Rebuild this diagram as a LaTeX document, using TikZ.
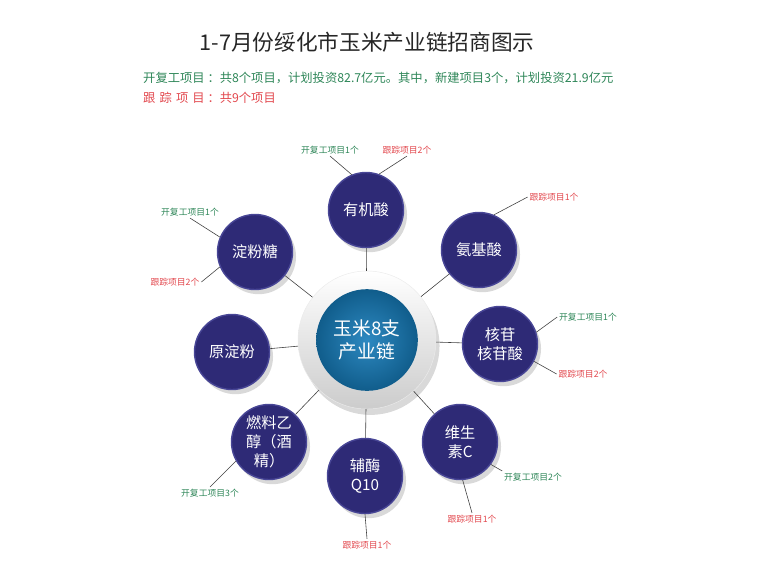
\documentclass[tikz,border=0pt]{standalone}
\usepackage{fontspec}
\newfontfamily\cjk{Noto Sans CJK SC}
\usetikzlibrary{shadows, positioning}
\definecolor{chainnavy}{RGB}{46,42,118}
\definecolor{chainrim}{RGB}{72,70,150}
\definecolor{chainblue}{RGB}{22,124,186}
\definecolor{workgreen}{RGB}{46,134,88}
\definecolor{trackred}{RGB}{226,72,78}

\begin{document}
\begin{tikzpicture}[x=0.03cm, y=-0.03cm,
  sat/.style={circle, fill=chainnavy, draw=chainrim, line width=1.2pt, minimum size=2.25cm, inner sep=0pt, align=center, text=white, font=\cjk\fontsize{13}{16}\selectfont, drop shadow={opacity=0.3, shadow xshift=3pt, shadow yshift=-4pt}},
  work/.style={text=workgreen, font=\cjk\fontsize{7.5}{9}\selectfont, inner sep=1.5pt},
  track/.style={text=trackred, font=\cjk\fontsize{7.5}{9}\selectfont, inner sep=1.5pt},
  lnk/.style={draw=black!75, line width=0.5pt}
]
  \useasboundingbox (0,0) rectangle (768,575);

  \node[font=\cjk\fontsize{18.5}{22}\selectfont, text=black!85] (title) at (367,42) {1-7月份绥化市玉米产业链招商图示};
  \node[anchor=west, text=workgreen, font=\cjk\fontsize{10.5}{12}\selectfont, inner sep=0pt] (sumg) at (143,78) {开复工项目\ ：共8个项目，计划投资82.7亿元。其中，新建项目3个，计划投资21.9亿元};
  \node[anchor=west, text=trackred, font=\cjk\fontsize{10.5}{12}\selectfont, inner sep=0pt] (sumr) at (143,98) {\makebox[5em][s]{跟\hfill 踪\hfill 项\hfill 目}\ ：共9个项目};

  \node[circle, minimum size=4.14cm, inner sep=0pt, top color=white, bottom color=black!20, draw=black!8, drop shadow={opacity=0.3, shadow xshift=3pt, shadow yshift=-5pt}] (hub) at (367,340) {};
  \node[circle, minimum size=3.05cm, inner sep=0pt, inner color=chainblue!90!white, outer color=chainblue!75!black, text=white, align=center, font=\cjk\fontsize{16}{20}\selectfont] (core) at (hub) {玉米8支\\产业链};

  \node[sat] (yjs) at (366,210) {有机酸};
  \node[sat] (dft) at (255,252) {淀粉糖};
  \node[sat] (ajs) at (479,250) {氨基酸};
  \node[sat] (hg) at (500,344) {核苷\\核苷酸};
  \node[sat] (ydf) at (232,352) {原淀粉};
  \node[sat] (rly) at (269,442) {燃料乙\\醇（酒\\精）};
  \node[sat] (fm) at (365,476) {辅酶\\Q10};
  \node[sat] (wss) at (460,442) {维生\\素C};

  \foreach \s in {yjs, dft, ajs, hg, ydf, rly, fm, wss}
    \draw[lnk] (hub) -- (\s);

  \node[work] (yjsg) at (330,150) {开复工项目1个};
  \node[track] (yjsr) at (407,150) {跟踪项目2个};
  \node[work] (dftg) at (190,212) {开复工项目1个};
  \node[track] (dftr) at (175,282) {跟踪项目2个};
  \node[track] (ajsr) at (554,197) {跟踪项目1个};
  \node[work] (hgg) at (588,317) {开复工项目1个};
  \node[track] (hgr) at (583,374) {跟踪项目2个};
  \node[work] (rlyg) at (210,493) {开复工项目3个};
  \node[track] (fmr) at (367,545) {跟踪项目1个};
  \node[work] (wssg) at (533,477) {开复工项目2个};
  \node[track] (wssr) at (472,519) {跟踪项目1个};

  \draw[lnk] (yjs.112) -- (yjsg.south);
  \draw[lnk] (yjs.70) -- (yjsr.south);
  \draw[lnk] (dft.157) -- (dftg.south);
  \draw[lnk] (dft.203) -- (dftr.east);
  \draw[lnk] (ajs.67) -- (ajsr.west);
  \draw[lnk] (hg.18) -- (hgg.west);
  \draw[lnk] (hg.333) -- (hgr.west);
  \draw[lnk] (rly.210) -- (rlyg.north);
  \draw[lnk] (fm.south) -- (fmr.north);
  \draw[lnk] (wss.324) -- (wssg.north west);
  \draw[lnk] (wss.274) -- (wssr.north);
\end{tikzpicture}
\end{document}
